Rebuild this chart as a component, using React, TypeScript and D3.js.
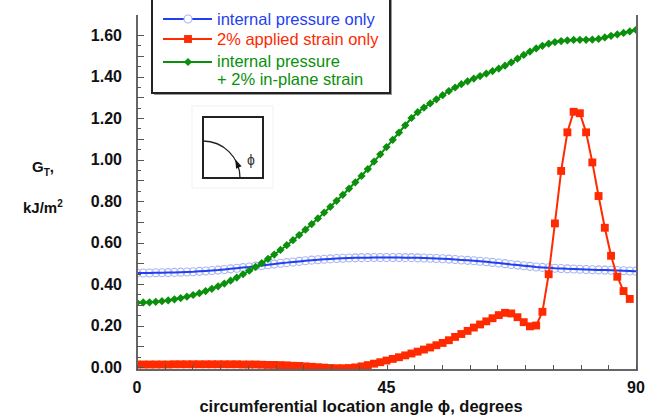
import React from "react";
import * as d3 from "d3";

const ANGLES = [
  0, 1.125, 2.25, 3.375, 4.5, 5.625, 6.75, 7.875, 9, 10.125,
  11.25, 12.375, 13.5, 14.625, 15.75, 16.875, 18, 19.125, 20.25, 21.375,
  22.5, 23.625, 24.75, 25.875, 27, 28.125, 29.25, 30.375, 31.5, 32.625,
  33.75, 34.875, 36, 37.125, 38.25, 39.375, 40.5, 41.625, 42.75, 43.875,
  45, 46.125, 47.25, 48.375, 49.5, 50.625, 51.75, 52.875, 54, 55.125,
  56.25, 57.375, 58.5, 59.625, 60.75, 61.875, 63, 64.125, 65.25, 66.375,
  67.5, 68.625, 69.75, 70.875, 72, 73.125, 74.25, 75.375, 76.5, 77.625,
  78.75, 79.875, 81, 82.125, 83.25, 84.375, 85.5, 86.625, 87.75, 88.875,
  90,
];

const pressureOnly = [
  0.453, 0.453, 0.453, 0.454, 0.454, 0.455, 0.456, 0.457, 0.458, 0.459,
  0.461, 0.463, 0.465, 0.467, 0.47, 0.473, 0.476, 0.479, 0.482, 0.486,
  0.489, 0.493, 0.496, 0.5, 0.503, 0.506, 0.509, 0.512, 0.515, 0.517,
  0.519, 0.521, 0.523, 0.524, 0.525, 0.526, 0.527, 0.527, 0.528, 0.528,
  0.528, 0.528, 0.528, 0.527, 0.527, 0.526, 0.525, 0.524, 0.523, 0.522,
  0.52, 0.518, 0.516, 0.514, 0.512, 0.51, 0.507, 0.504, 0.501, 0.498,
  0.494, 0.491, 0.488, 0.485, 0.482, 0.48, 0.478, 0.476, 0.475, 0.473,
  0.472, 0.471, 0.47, 0.469, 0.468, 0.467, 0.466, 0.465, 0.464, 0.463,
  0.462,
];

const strainOnly = [
  0.012, 0.012, 0.012, 0.012, 0.012, 0.012, 0.013, 0.013, 0.013, 0.013,
  0.013, 0.013, 0.013, 0.013, 0.013, 0.013, 0.013, 0.012, 0.012, 0.012,
  0.011, 0.01, 0.01, 0.009, 0.008, 0.006, 0.005, 0.003, 0.001, -0.001,
  -0.003, -0.005, -0.006, -0.006, -0.005, -0.002, 0.003, 0.009, 0.016, 0.023,
  0.031, 0.039, 0.047, 0.056, 0.065, 0.074, 0.084, 0.094, 0.105, 0.116,
  0.129, 0.145, 0.159, 0.174, 0.19, 0.205, 0.22, 0.235, 0.25, 0.261,
  0.258, 0.24, 0.216, 0.196, 0.2, 0.266, 0.447, 0.692, 0.945, 1.131,
  1.23, 1.223, 1.131, 0.986, 0.824, 0.671, 0.536, 0.435, 0.366, 0.328,
];

const combined = [
  0.31, 0.311, 0.312, 0.314, 0.317, 0.321, 0.326, 0.332, 0.339, 0.347,
  0.356, 0.366, 0.377, 0.389, 0.402, 0.416, 0.431, 0.447, 0.464, 0.482,
  0.501, 0.521, 0.542, 0.564, 0.587, 0.611, 0.636, 0.662, 0.689, 0.716,
  0.744, 0.772, 0.801, 0.83, 0.86, 0.89, 0.921, 0.954, 0.99, 1.025,
  1.06, 1.095, 1.13, 1.165, 1.2, 1.228, 1.25, 1.27, 1.29, 1.31,
  1.33, 1.347, 1.363, 1.377, 1.39, 1.402, 1.414, 1.426, 1.438, 1.452,
  1.468, 1.486, 1.504, 1.52, 1.535, 1.548, 1.558, 1.566, 1.571, 1.574,
  1.576, 1.577, 1.577, 1.578, 1.581, 1.588, 1.596, 1.603, 1.61, 1.617,
  1.625,
];

const yTickLabels = ["0.00", "0.20", "0.40", "0.60", "0.80", "1.00", "1.20", "1.40", "1.60"];
const xTickLabels = ["0", "45", "90"];
const legendLabels = ["internal pressure only", "2% applied strain only", "internal pressure", "+ 2% in-plane strain"];

const FONT = "'Liberation Sans', Arial, Helvetica, sans-serif";
const BLUE = "#1f3ff0";
const BLUE_LIGHT = "#aab4f4";
const RED = "#ff2a00";
const GREEN = "#0a900a";

export default function App() {
  const x = d3.scaleLinear().domain([0, 90]).range([137, 636]);
  const y = d3.scaleLinear().domain([0, 1.6]).range([367, 35]);

  const mk = (vals: number[]) => vals.map((v, i) => [ANGLES[i], v] as [number, number]);
  const blueData = mk(pressureOnly);
  const redData = mk(strainOnly);
  const greenData = mk(combined);

  const line = d3
    .line<[number, number]>()
    .x((d) => x(d[0]))
    .y((d) => y(d[1]));

  const square = d3.symbol().type(d3.symbolSquare).size(62)();
  const diamond = d3.symbol().type(d3.symbolSquare).size(34)();

  const yMinor = d3.range(0, 33).map((i) => i * 0.05);
  const xMinor = d3.range(0, 19).map((i) => i * 5);

  const axisTop = 15;
  const axisBottom = 370;
  const left = 137;
  const right = 637;

  // inset geometry
  const ix = 203, iy = 117, iw = 60;
  const cx = ix, cy = iy + iw + 1, r = 37;
  const th = (24 * Math.PI) / 180;
  const ax = cx + r * Math.cos(th), ay = cy - r * Math.sin(th);
  const tx = -Math.sin(th), ty = -Math.cos(th);
  const nx = -ty, ny = tx;
  const arrow = `M${ax + tx * 4},${ay + ty * 4} L${ax - tx * 5 + nx * 3},${ay - ty * 5 + ny * 3} L${ax - tx * 5 - nx * 3},${ay - ty * 5 - ny * 3} Z`;

  return (
    <svg width={645} height={416} style={{ position: "absolute", left: 0, top: 0, background: "#fff" }}>
      <defs>
        <clipPath id="plotclip">
          <rect x={left} y={0} width={right - left} height={axisBottom} />
        </clipPath>
      </defs>

      {/* inset faint box */}
      <rect x={192} y={106} width={81} height={82} fill="none" stroke="#f2f2f2" strokeWidth={1} />
      <rect x={ix} y={iy} width={iw} height={iw + 1} fill="none" stroke="#222" strokeWidth={2} />
      <path
        d={`M${cx},${cy - r} A${r},${r} 0 0 1 ${cx + r},${cy}`}
        fill="none"
        stroke="#222"
        strokeWidth={1.3}
      />
      <path d={arrow} fill="#111" />
      <text x={251} y={165} fontSize={14} fontFamily={FONT} textAnchor="middle" fill="#333">
        ϕ
      </text>

      {/* data */}
      <g clipPath="url(#plotclip)">
        {blueData.map((d, i) => (
          <circle key={"bc" + i} cx={x(d[0])} cy={y(d[1])} r={4} fill="none" stroke={BLUE_LIGHT} strokeWidth={1.1} />
        ))}
        <path d={line(blueData) || ""} fill="none" stroke={BLUE} strokeWidth={2} />

        <path d={line(greenData) || ""} fill="none" stroke={GREEN} strokeWidth={2} />
        {greenData.map((d, i) => (
          <path key={"gd" + i} d={diamond || ""} transform={`translate(${x(d[0])},${y(d[1])}) rotate(45)`} fill={GREEN} />
        ))}

        <path d={line(redData) || ""} fill="none" stroke={RED} strokeWidth={2} />
        {redData.map((d, i) => (
          <path key={"rs" + i} d={square || ""} transform={`translate(${x(d[0])},${y(d[1])})`} fill={RED} />
        ))}
      </g>

      {/* axes */}
      <g stroke="#666" strokeWidth={2} fill="none">
        <line x1={left} y1={axisTop} x2={left} y2={axisBottom + 1} />
        <line x1={left - 1} y1={axisBottom} x2={right + 1} y2={axisBottom} />
        <line x1={right} y1={axisTop} x2={right} y2={axisBottom + 1} />
      </g>
      <g stroke="#555" strokeWidth={1}>
        {yMinor.map((v, i) => (
          <line key={"yt" + i} x1={left} x2={left + (i % 2 === 0 ? 7 : 4)} y1={Math.round(y(v)) + 0.5} y2={Math.round(y(v)) + 0.5} />
        ))}
        {xMinor.map((v, i) => (
          <line key={"xt" + i} x1={Math.round(x(v)) + 0.5} x2={Math.round(x(v)) + 0.5} y1={axisBottom} y2={axisBottom - 5} />
        ))}
      </g>

      {/* tick labels */}
      <g fontFamily={FONT} fontWeight="bold" fontSize={16} fill="#111">
        {yTickLabels.map((t, i) => (
          <text key={"yl" + i} x={122} y={y(i * 0.2)} dy="0.35em" textAnchor="end">
            {t}
          </text>
        ))}
        {xTickLabels.map((t, i) => (
          <text key={"xl" + i} x={x(i * 45)} y={393} textAnchor="middle">
            {t}
          </text>
        ))}
        <text x={361} y={412} textAnchor="middle" fontSize={16.5}>
          circumferential location angle ϕ, degrees
        </text>
        <text x={32} y={172} fontSize={15}>
          G<tspan fontSize={10} dy={4}>T</tspan>
          <tspan dy={-4}>,</tspan>
        </text>
        <text x={23} y={213} fontSize={15}>
          kJ/m<tspan fontSize={10} dy={-6}>2</tspan>
        </text>
      </g>

      {/* legend */}
      <rect x={154} y={-6} width={238} height={101} fill="#999" />
      <rect x={152} y={-8} width={238} height={101} fill="#fff" stroke="#222" strokeWidth={2} />
      <g fontFamily={FONT} fontSize={16.5}>
        <line x1={163} x2={212} y1={19} y2={19} stroke={BLUE} strokeWidth={2} />
        <circle cx={188} cy={19} r={4} fill="#fff" stroke={BLUE_LIGHT} strokeWidth={1.1} />
        <text x={217} y={25} fill={BLUE}>{legendLabels[0]}</text>

        <line x1={163} x2={212} y1={39} y2={39} stroke={RED} strokeWidth={2} />
        <path d={square || ""} transform="translate(188,39)" fill={RED} />
        <text x={217} y={45} fill={RED}>{legendLabels[1]}</text>

        <line x1={163} x2={212} y1={62} y2={62} stroke={GREEN} strokeWidth={2} />
        <path d={diamond || ""} transform="translate(188,62) rotate(45)" fill={GREEN} />
        <text x={217} y={67} fill={GREEN}>{legendLabels[2]}</text>
        <text x={217} y={84.5} fill={GREEN}>{legendLabels[3]}</text>
      </g>
    </svg>
  );
}
